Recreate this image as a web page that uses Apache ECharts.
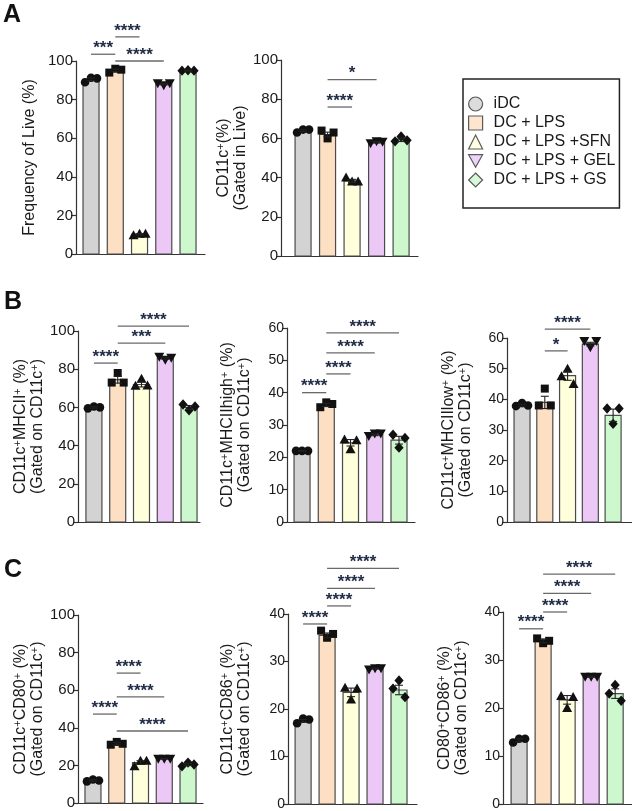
<!DOCTYPE html>
<html>
<head>
<meta charset="utf-8">
<script src="https://cdn.jsdelivr.net/npm/echarts@6/dist/echarts.min.js"></script>
<style>
html, body { margin: 0; padding: 0; background: #fff; }
#chart { width: 632px; height: 811px; }
</style>
</head>
<body>
<div id="chart"></div>
<script>
const groups = ['iDC', 'DC + LPS', 'DC + LPS +SFN', 'DC + LPS + GEL', 'DC + LPS + GS']

// A - left: frequency of live
const liveMean = [90.5, 95.2, 10.2, 88.0, 95.0]
const liveSem = [0.7, 0.6, 0.3, 0.4, 0.2]
const livePts = [[89, 91.3, 91], [94, 96, 95.5], [9.7, 10.5, 10.5], [88.5, 87.5, 88.5], [95, 95.2, 95]]
const liveSig = [[0, 1, 103.5, '***'], [1, 2, 112.5, '****'], [1, 3, 100, '****']]

// A - right: CD11c+ gated in live
const cd11Mean = [64.0, 62.0, 38.3, 58.0, 59.3]
const cd11Sem = [0.5, 1.2, 0.8, 0.4, 0.9]
const cd11Pts = [[63, 64.5, 64.5], [64, 60, 63], [40, 38, 38], [57.5, 58.5, 58.3], [58.5, 61, 59]]
const cd11Sig = [[1, 2, 76, '****'], [1, 3, 90, '*']]

// B: MHCII+
const mhcMean = [60.0, 74.5, 72.0, 85.7, 60.0]
const mhcSem = [0.4, 1.8, 1.3, 0.5, 1.0]
const mhcPts = [[59.5, 60.5, 60], [73, 78, 73], [71.3, 75, 71.5], [86.5, 85, 86], [61.5, 58.5, 60.5]]
const mhcSig = [[0, 1, 83.2, '****'], [1, 3, 93.7, '***'], [1, 4, 102.6, '****']]

// B: MHCIIhigh+
const highMean = [22.0, 36.2, 24.5, 27.0, 25.3]
const highSem = [0.1, 0.5, 1.0, 0.3, 1.2]
const highPts = [[22, 22, 22], [35.5, 37, 36.5], [25.5, 22.5, 25.3], [26.6, 27.4, 27.4], [27, 23, 26]]
const highSig = [[0, 1, 40, '****'], [1, 2, 45.8, '****'], [1, 3, 52.3, '****'], [1, 4, 58.5, '****']]

// B: MHCIIlow+
const lowMean = [38.0, 39.0, 47.7, 58.0, 34.8]
const lowSem = [0.4, 2.0, 1.5, 0.6, 2.0]
const lowPts = [[37.8, 38.8, 38], [38, 43.5, 38], [47.5, 50, 45], [59, 57, 59], [37, 32, 37]]
const lowSig = [[1, 2, 55.8, '*'], [1, 3, 62.9, '****']]

// C: CD80+
const cd80Mean = [12.0, 31.5, 21.5, 23.5, 20.5]
const cd80Sem = [0.4, 0.6, 1.0, 0.1, 0.6]
const cd80Pts = [[11.5, 12.5, 12], [31, 32.5, 31.5], [19.5, 22.5, 22.5], [23.5, 23.5, 23.5], [19.5, 21.5, 20.5]]
const cd80Sig = [[0, 1, 47.3, '****'], [1, 2, 69.1, '****'], [1, 3, 56.4, '****'], [1, 4, 38.3, '****']]

// C: CD86+
const cd86Mean = [17.5, 35.5, 23.5, 28.5, 24.0]
const cd86Sem = [0.3, 0.5, 0.9, 0.1, 1.0]
const cd86Pts = [[17, 18, 17.8], [36.5, 35, 35.8], [24.5, 22, 24.3], [28.3, 28.6, 28.6], [24.3, 26, 22.5]]
const cd86Sig = [[0, 1, 37.9, '****'], [1, 2, 41.7, '****'], [1, 3, 45.4, '****'], [1, 4, 49.6, '****']]

// C: CD80+CD86+
const dblMean = [13.3, 34.0, 21.7, 26.5, 23.0]
const dblSem = [0.3, 0.4, 0.9, 0.1, 1.0]
const dblPts = [[12.8, 13.6, 13.6], [34.5, 33.5, 34], [22.5, 20, 22.3], [26.5, 26.5, 26.5], [23, 24.8, 21.5]]
const dblSig = [[0, 1, 36.5, '****'], [1, 2, 40, '****'], [1, 3, 43.9, '****'], [1, 4, 47.9, '****']]

const barColors = ['#d3d3d3', '#fddfc3', '#ffffdc', '#ecc8f6', '#cdf8cd']
const legendIcons = ['circle', 'rect', 'triangle', 'path://M0,0L10,0L5,9Z', 'diamond']
const FONT = "'Liberation Sans', Arial, sans-serif"

const panels = [
  { mean: liveMean, sem: liveSem, pts: livePts, sig: liveSig,
    name: 'Frequency of Live (%)', gap: 38, fs: 15,
    grid: { left: 76, top: 61, width: 129, height: 193 }, xMin: -0.62, xMax: 4.7, yMax: 100, yInt: 20 },
  { mean: cd11Mean, sem: cd11Sem, pts: cd11Pts, sig: cd11Sig,
    name: '{t|CD11c}{s|+}{t|(%)}\n{t|(Gated in Live)}', gap: 29, fs: 15,
    grid: { left: 281, top: 60, width: 137, height: 196 }, xMin: -0.9, xMax: 4.69, yMax: 100, yInt: 20 },
  { mean: mhcMean, sem: mhcSem, pts: mhcPts, sig: mhcSig,
    name: '{t|CD11c}{s|+}{t|MHCII}{s|+}{t| (%)}\n{t|(Gated on CD11c}{s|+}{t|)}', gap: 26, fs: 15,
    grid: { left: 78, top: 331, width: 122, height: 191 }, xMin: -0.67, xMax: 4.46, yMax: 100, yInt: 20 },
  { mean: highMean, sem: highSem, pts: highPts, sig: highSig,
    name: '{t|CD11c}{s|+}{t|MHCIIhigh}{s|+}{t| (%)}\n{t|(Gated on CD11c}{s|+}{t|)}', gap: 34, fs: 14,
    grid: { left: 287, top: 328, width: 128, height: 194 }, xMin: -0.62, xMax: 4.66, yMax: 60, yInt: 10 },
  { mean: lowMean, sem: lowSem, pts: lowPts, sig: lowSig,
    name: '{t|CD11c}{s|+}{t|MHCIIlow}{s|+}{t| (%)}\n{t|(Gated on CD11c}{s|+}{t|)}', gap: 33, fs: 14,
    grid: { left: 507, top: 338, width: 125, height: 184 }, xMin: -0.66, xMax: 4.83, yMax: 60, yInt: 10 },
  { mean: cd80Mean, sem: cd80Sem, pts: cd80Pts, sig: cd80Sig,
    name: '{t|CD11c}{s|+}{t|CD80}{s|+}{t| (%)}\n{t|(Gated on CD11c}{s|+}{t|)}', gap: 26, fs: 15,
    grid: { left: 78, top: 615, width: 125, height: 188 }, xMin: -0.63, xMax: 4.63, yMax: 100, yInt: 20 },
  { mean: cd86Mean, sem: cd86Sem, pts: cd86Pts, sig: cd86Sig,
    name: '{t|CD11c}{s|+}{t|CD86}{s|+}{t| (%)}\n{t|(Gated on CD11c}{s|+}{t|)}', gap: 35, fs: 14,
    grid: { left: 288, top: 614, width: 129, height: 191 }, xMin: -0.63, xMax: 4.75, yMax: 40, yInt: 10 },
  { mean: dblMean, sem: dblSem, pts: dblPts, sig: dblSig,
    name: '{t|CD80}{s|+}{t|CD86}{s|+}{t| (%)}\n{t|(Gated on CD11c}{s|+}{t|)}', gap: 33, fs: 14,
    grid: { left: 503, top: 612, width: 129, height: 193 }, xMin: -0.67, xMax: 4.7, yMax: 40, yInt: 10 }
]

function marker(g, x, y) {
  const st = { fill: '#111' }
  if (g === 0) return { type: 'circle', shape: { cx: x, cy: y, r: 4.3 }, style: st }
  if (g === 1) return { type: 'rect', shape: { x: x - 4, y: y - 4, width: 8, height: 8 }, style: st }
  if (g === 2) return { type: 'polygon', shape: { points: [[x, y - 5], [x + 5, y + 4], [x - 5, y + 4]] }, style: st }
  if (g === 3) return { type: 'polygon', shape: { points: [[x - 5, y - 4], [x + 5, y - 4], [x, y + 5]] }, style: st }
  return { type: 'polygon', shape: { points: [[x, y - 5.2], [x + 4.6, y], [x, y + 5.2], [x - 4.6, y]] }, style: st }
}

function barItem(params, api) {
  const i = api.value(0), m = api.value(1), s = api.value(2)
  const base = api.coord([i, 0])
  const top = api.coord([i, m])
  const hi = api.coord([i, m + s])
  const lo = api.coord([i, m - s])
  const x = base[0]
  const children = [
    { type: 'rect', shape: { x: x - 8, y: top[1], width: 16, height: base[1] - top[1] },
      style: { fill: barColors[i], stroke: '#4a4a4a', lineWidth: 1.2 } }
  ]
  const offs = [-6, 0, 6]
  for (let k = 0; k < 3; k++) {
    const p = api.coord([i, api.value(3 + k)])
    children.push(marker(i, x + offs[k], p[1]))
  }
  const es = { stroke: '#222', lineWidth: 1.1 }
  children.push({ type: 'line', shape: { x1: x, y1: hi[1], x2: x, y2: lo[1] }, style: es })
  children.push({ type: 'line', shape: { x1: x - 4, y1: hi[1], x2: x + 4, y2: hi[1] }, style: es })
  children.push({ type: 'line', shape: { x1: x - 4, y1: lo[1], x2: x + 4, y2: lo[1] }, style: es })
  return { type: 'group', children }
}

function sigRenderer(sig) {
  return function (params, api) {
    const a = api.coord([api.value(0), api.value(2)])
    const b = api.coord([api.value(1), api.value(2)])
    return {
      type: 'group',
      children: [
        { type: 'line', shape: { x1: a[0], y1: a[1], x2: b[0], y2: b[1] },
          style: { stroke: '#6a6a6a', lineWidth: 1.3 } },
        { type: 'text', x: (a[0] + b[0]) / 2, y: a[1] - 6,
          style: { text: sig[params.dataIndex][3], fill: '#1f2a44', font: 'bold 17px ' + FONT,
            align: 'center', verticalAlign: 'middle' } }
      ]
    }
  }
}

const grid = [], xAxis = [], yAxis = [], series = []
panels.forEach((p, k) => {
  grid.push(p.grid)
  xAxis.push({
    type: 'value', gridIndex: k, min: p.xMin, max: p.xMax, position: 'bottom',
    axisLine: { show: true, onZero: false, lineStyle: { color: '#333', width: 1.2 } },
    axisTick: { show: false }, axisLabel: { show: false }, splitLine: { show: false }
  })
  yAxis.push({
    type: 'value', gridIndex: k, min: 0, max: p.yMax, interval: p.yInt,
    name: p.name, nameLocation: 'middle', nameGap: p.gap,
    nameTextStyle: {
      fontSize: 16, color: '#1a1a1a', lineHeight: 17, fontFamily: FONT,
      rich: {
        t: { fontSize: 16, lineHeight: 17, color: '#1a1a1a', fontFamily: FONT },
        s: { fontSize: 11, lineHeight: 10, verticalAlign: 'top', color: '#1a1a1a', fontFamily: FONT }
      }
    },
    axisLine: { show: true, onZero: false, lineStyle: { color: '#333', width: 1.2 } },
    axisTick: { show: true, length: 5, lineStyle: { color: '#333', width: 1.2 } },
    axisLabel: { color: '#1a1a1a', fontSize: p.fs, margin: 3, fontFamily: FONT },
    splitLine: { show: false }
  })
  series.push({
    type: 'custom', xAxisIndex: k, yAxisIndex: k, renderItem: barItem,
    encode: { x: 0, y: 1 }, silent: true,
    data: p.mean.map((m, i) => [i, m, p.sem[i], p.pts[i][0], p.pts[i][1], p.pts[i][2]])
  })
  series.push({
    type: 'custom', xAxisIndex: k, yAxisIndex: k, renderItem: sigRenderer(p.sig),
    encode: { x: [0, 1], y: 2 }, silent: true, clip: false,
    data: p.sig.map(s => [s[0], s[1], s[2]])
  })
})

groups.forEach((g, i) => {
  series.push({
    type: 'scatter', name: g, data: [], xAxisIndex: 0, yAxisIndex: 0,
    itemStyle: { color: barColors[i], borderColor: '#333', borderWidth: 1.2 }
  })
})

const chart = echarts.init(document.getElementById('chart'))
chart.setOption({
  animation: false,
  textStyle: { fontFamily: FONT },
  grid, xAxis, yAxis, series,
  legend: {
    orient: 'vertical', left: 463, top: 79,
    itemWidth: 14, itemHeight: 14, itemGap: 3,
    padding: [17, 4, 20, 5],
    borderColor: '#222', borderWidth: 1.5,
    selectedMode: false,
    itemStyle: { borderColor: '#333', borderWidth: 1.2 },
    textStyle: { fontSize: 16, lineHeight: 16, color: '#1a1a1a', padding: [0, 0, 0, 6], fontFamily: FONT },
    data: groups.map((g, i) => ({ name: g, icon: legendIcons[i] }))
  },
  graphic: [
    { type: 'text', left: 3, top: 3, style: { text: 'A', font: 'bold 25px ' + FONT, fill: '#111' } },
    { type: 'text', left: 4, top: 290, style: { text: 'B', font: 'bold 25px ' + FONT, fill: '#111' } },
    { type: 'text', left: 4, top: 558, style: { text: 'C', font: 'bold 25px ' + FONT, fill: '#111' } }
  ]
})
</script>
</body>
</html>
